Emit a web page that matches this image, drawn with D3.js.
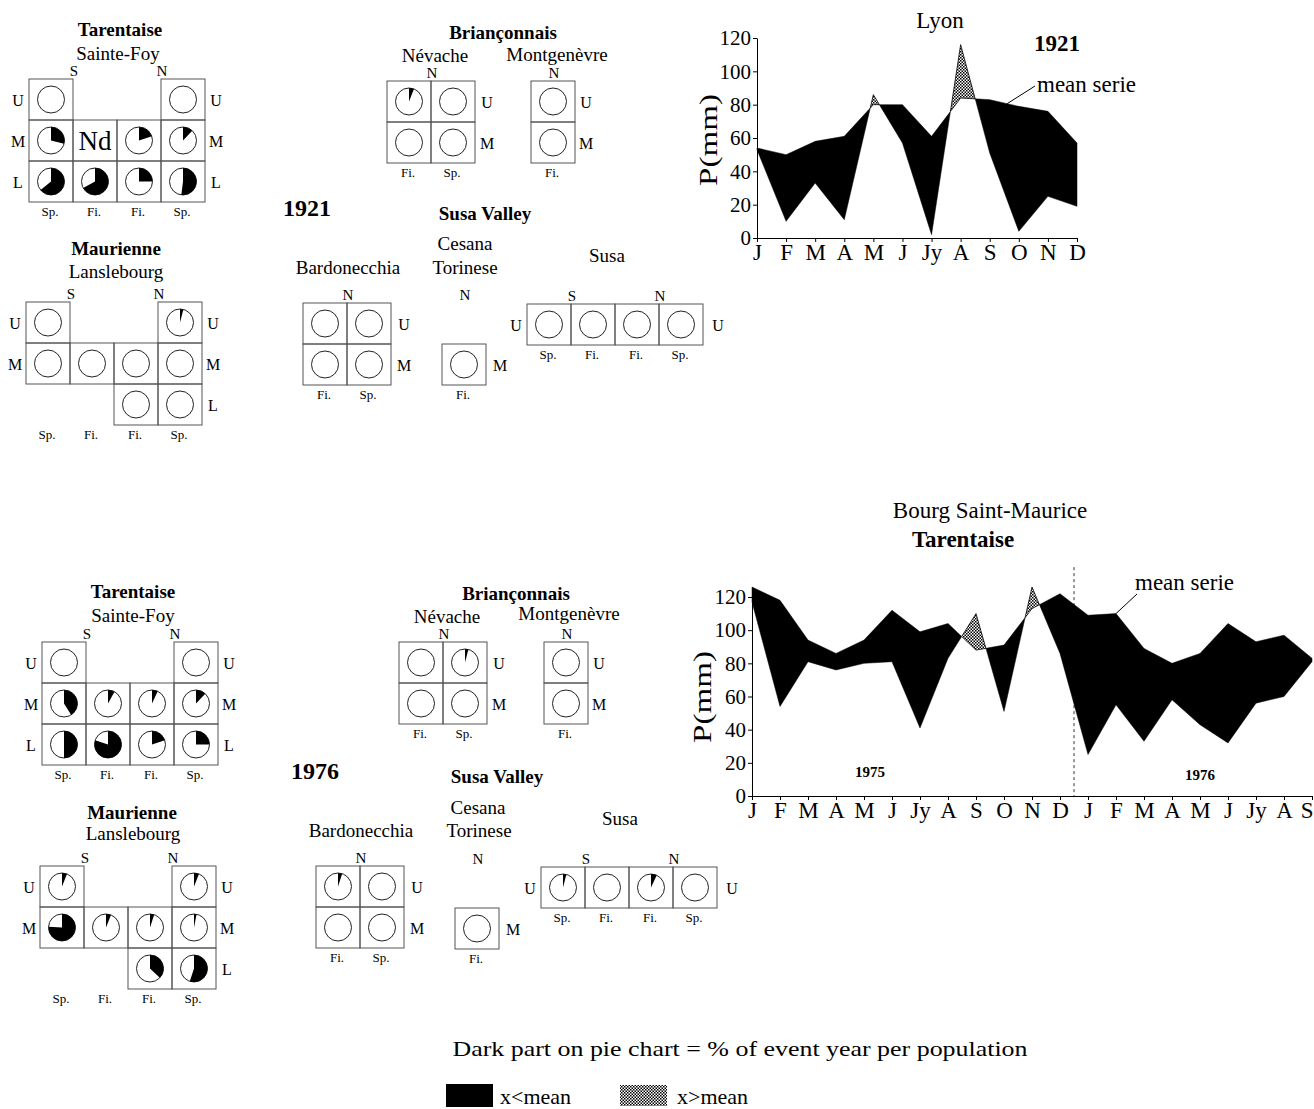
<!DOCTYPE html>
<html><head><meta charset="utf-8">
<script src="https://cdn.jsdelivr.net/npm/d3@7"></script>
<style>
body{margin:0;background:#fff}
svg text{font-family:"Liberation Serif","Times New Roman",serif;fill:#000}
</style></head>
<body><div id="chart"></div>
<script>
// ---- data ----
const months = ["J","F","M","A","M","J","Jy","A","S","O","N","D"];
const bourgMonths = months.concat(months.slice(0, 9)); // Jan 1975 -> Sep 1976
const yTicks = [0, 20, 40, 60, 80, 100, 120];

// Lyon 1921 monthly precipitation (mm) vs mean serie
const lyonMean = [54, 50, 58, 61, 80, 80, 61, 84, 83, 79, 76, 57];
const lyon1921 = [53, 10, 33, 11, 86, 57, 2, 116, 51, 4, 25, 19];

// Bourg Saint-Maurice 1975-76
const bourgMean = [126, 118, 94, 86, 94, 112, 99, 104, 88, 91, 113, 122, 109, 110, 89, 80, 86, 104, 93, 97, 83];
const bourgObs  = [117, 54, 81, 76, 80, 81, 41, 83, 110, 51, 126, 86, 25, 55, 33, 58, 43, 32, 56, 60, 81];

// pie values = dark fraction (null: no population, "Nd": no data)
const rowNames = ["U", "M", "L"];
const tarentaiseCols = ["Sp.", "Fi.", "Fi.", "Sp."];
const nevacheCols = ["Fi.", "Sp."];
const singleCol = ["Fi."];

const tarentaise1921   = [[0, null, null, 0], [0.29, "Nd", 0.2, 0.12], [0.64, 0.67, 0.25, 0.52]];
const maurienne1921    = [[0, null, null, 0.04], [0, 0, 0, 0], [null, null, 0, 0]];
const nevache1921      = [[0.06, 0], [0, 0]];
const montgenevre1921  = [[0], [0]];
const bardonecchia1921 = [[0, 0], [0, 0]];
const cesana1921       = [[null], [0]];
const susa1921         = [[0, 0, 0, 0]];

const tarentaise1976   = [[0, null, null, 0], [0.41, 0.08, 0.07, 0.12], [0.5, 0.8, 0.2, 0.25]];
const maurienne1976    = [[0.06, null, null, 0.06], [0.76, 0.06, 0.05, 0.03], [null, null, 0.37, 0.55]];
const nevache1976      = [[0, 0.04], [0, 0]];
const montgenevre1976  = [[0], [0]];
const bardonecchia1976 = [[0.05, 0], [0, 0]];
const cesana1976       = [[null], [0]];
const susa1976         = [[0.04, 0, 0.07, 0]];

// ---- drawing ----
const svg = d3.select("#chart").append("svg").attr("width", 1314).attr("height", 1109);

const pat = svg.append("defs").append("pattern").attr("id", "hatch")
    .attr("patternUnits", "userSpaceOnUse").attr("width", 3).attr("height", 3);
pat.append("rect").attr("width", 3).attr("height", 3).attr("fill", "#fff");
pat.append("rect").attr("width", 1.5).attr("height", 1.5).attr("fill", "#000");
pat.append("rect").attr("x", 1.5).attr("y", 1.5).attr("width", 1.5).attr("height", 1.5).attr("fill", "#000");

function label(x, y, t, size, opt) {
    opt = opt || {};
    const el = svg.append("text").attr("x", x).attr("y", y)
        .attr("text-anchor", opt.anchor || "middle")
        .attr("dominant-baseline", "central")
        .attr("font-size", size)
        .attr("font-weight", opt.bold ? "bold" : null)
        .text(t);
    if (opt.len) el.attr("textLength", opt.len).attr("lengthAdjust", "spacingAndGlyphs");
    if (opt.rot) el.attr("transform", `rotate(${opt.rot},${x},${y})`);
    return el;
}

const cw = 44, ch = 41, pr = 13.5;
const arc = d3.arc().innerRadius(0).outerRadius(pr);

function drawSite(vals, o) {
    const g = svg.append("g").attr("transform", `translate(${o.x},${o.y})`);
    const cells = [];
    vals.forEach((row, r) => row.forEach((v, c) => { if (v !== null) cells.push({r, c, v}); }));
    const cg = g.selectAll("g.cell").data(cells).join("g").attr("class", "cell")
        .attr("transform", d => `translate(${d.c * cw},${d.r * ch})`);
    cg.append("rect").attr("width", cw).attr("height", ch)
        .attr("fill", "none").attr("stroke", "#555").attr("stroke-width", 1);
    const pies = cg.filter(d => d.v !== "Nd").append("g").attr("transform", `translate(${cw / 2},${ch / 2})`);
    pies.append("circle").attr("r", pr).attr("fill", "#fff").attr("stroke", "#222").attr("stroke-width", 1);
    pies.filter(d => d.v > 0).append("path")
        .attr("d", d => arc({startAngle: 0, endAngle: d.v * 2 * Math.PI}))
        .attr("fill", "#000");
    cg.filter(d => d.v === "Nd").append("text")
        .attr("x", cw / 2).attr("y", ch / 2).attr("text-anchor", "middle")
        .attr("dominant-baseline", "central").attr("font-size", 27).text("Nd");

    const ncol = vals[0].length;
    vals.forEach((row, r) => {
        if (o.left && row[0] !== null)
            g.append("text").attr("x", -11).attr("y", r * ch + ch / 2 + 1).attr("text-anchor", "middle")
             .attr("dominant-baseline", "central").attr("font-size", 16).text(rowNames[r]);
        if (o.right && row[ncol - 1] !== null)
            g.append("text").attr("x", ncol * cw + (o.rOff || 11)).attr("y", r * ch + ch / 2 + 1).attr("text-anchor", "middle")
             .attr("dominant-baseline", "central").attr("font-size", 16).text(rowNames[r]);
    });
    o.cols.forEach((t, c) => {
        g.append("text").attr("x", c * cw + cw / 2 - 1).attr("y", vals.length * ch + 9)
         .attr("text-anchor", "middle").attr("dominant-baseline", "central").attr("font-size", 13).text(t);
    });
    (o.marks || []).forEach(m => {
        g.append("text").attr("x", m[1] * cw + 1).attr("y", -8).attr("text-anchor", "middle")
         .attr("dominant-baseline", "central").attr("font-size", 15).text(m[0]);
    });
}

function splitRuns(mean, obs) {
    const runs = [];
    let cur = null;
    for (let i = 0; i < mean.length; i++) {
        const p = {i: i, m: mean[i], o: obs[i]};
        const below = obs[i] <= mean[i];
        if (!cur) { cur = {below, pts: [p]}; continue; }
        if (below !== cur.below) {
            const d0 = obs[i - 1] - mean[i - 1], d1 = obs[i] - mean[i];
            const t = d0 / (d0 - d1);
            const v = mean[i - 1] + t * (mean[i] - mean[i - 1]);
            const c = {i: i - 1 + t, m: v, o: v};
            cur.pts.push(c);
            runs.push(cur);
            cur = {below, pts: [c, p]};
        } else cur.pts.push(p);
    }
    runs.push(cur);
    return runs;
}

function drawChart(o) {
    const x = d3.scaleLinear().domain([0, o.mean.length - 1]).range(o.xr);
    const y = d3.scaleLinear().domain([0, 120]).range(o.yr);
    const area = d3.area().x(d => x(d.i)).y0(d => y(d.m)).y1(d => y(d.o));
    const g = svg.append("g");
    g.selectAll("path.run").data(splitRuns(o.mean, o.obs)).join("path").attr("class", "run")
        .attr("d", d => area(d.pts))
        .attr("fill", d => d.below ? "#000" : "url(#hatch)")
        .attr("stroke", "#000").attr("stroke-width", d => d.below ? 0.5 : 0.8);

    const ya = g.append("g").attr("transform", `translate(${o.xr[0]},0)`)
        .call(d3.axisLeft(y).tickValues(yTicks).tickSize(4).tickSizeOuter(0).tickPadding(2));
    ya.selectAll("text").attr("font-size", 21).attr("font-family", null);
    const xa = g.append("g").attr("transform", `translate(0,${o.yr[0]})`)
        .call(d3.axisBottom(x).tickValues(d3.range(o.labels.length)).tickFormat(i => o.labels[i])
              .tickSize(4).tickSizeOuter(0).tickPadding(2));
    xa.selectAll("text").attr("font-size", 23).attr("font-family", null);
    if (o.lastEnd) xa.selectAll(".tick:last-of-type text").attr("text-anchor", "end").attr("dx", 1);
    g.selectAll(".domain, .tick line").attr("stroke", "#000");
    return {x, y};
}

// ---- Lyon 1921 ----
const lyon = drawChart({mean: lyonMean, obs: lyon1921, labels: months, xr: [757, 1077], yr: [238, 38]});
label(940, 20, "Lyon", 23);
label(1057, 43, "1921", 23, {bold: true});
label(1037, 84, "mean serie", 23, {anchor: "start"});
svg.append("line").attr("x1", 1035).attr("y1", 86)
    .attr("x2", lyon.x(8.6)).attr("y2", lyon.y(lyonMean[8] + 0.6 * (lyonMean[9] - lyonMean[8])))
    .attr("stroke", "#000");
label(708, 140, "P(mm)", 25, {rot: -90, len: 92});

// ---- Bourg Saint-Maurice 1975-76 ----
const bourg = drawChart({mean: bourgMean, obs: bourgObs, labels: bourgMonths, xr: [752, 1312], yr: [796, 597], lastEnd: true});
svg.append("line").attr("x1", bourg.x(11.5)).attr("x2", bourg.x(11.5))
    .attr("y1", bourg.y(138)).attr("y2", bourg.y(0))
    .attr("stroke", "#000").attr("stroke-width", 0.8).attr("stroke-dasharray", "3,3");
label(990, 510, "Bourg Saint-Maurice", 23);
label(963, 539, "Tarentaise", 23, {bold: true});
label(1135, 582, "mean serie", 23, {anchor: "start"});
svg.append("line").attr("x1", 1137).attr("y1", 594)
    .attr("x2", bourg.x(13)).attr("y2", bourg.y(bourgMean[13])).attr("stroke", "#000");
label(870, 772, "1975", 15, {bold: true});
label(1200, 775, "1976", 15, {bold: true});
label(702, 697, "P(mm)", 25, {rot: -90, len: 92});

// ---- 1921 pie panels ----
label(120, 29, "Tarentaise", 19, {bold: true});
label(118, 53, "Sainte-Foy", 19);
drawSite(tarentaise1921, {x: 29, y: 79, cols: tarentaiseCols, left: true, right: true, marks: [["S", 1], ["N", 3]]});
label(116, 248, "Maurienne", 19, {bold: true});
label(116, 271, "Lanslebourg", 19);
drawSite(maurienne1921, {x: 26, y: 302, cols: tarentaiseCols, left: true, right: true, marks: [["S", 1], ["N", 3]]});

label(503, 32, "Briançonnais", 19, {bold: true});
label(435, 55, "Névache", 19);
label(557, 54, "Montgenèvre", 19);
drawSite(nevache1921, {x: 387, y: 81, cols: nevacheCols, right: true, rOff: 12, marks: [["N", 1]]});
drawSite(montgenevre1921, {x: 531, y: 81, cols: singleCol, right: true, marks: [["N", 0.5]]});

label(307, 208, "1921", 24, {bold: true});
label(485, 213, "Susa Valley", 19, {bold: true});
label(348, 267, "Bardonecchia", 19);
label(465, 243, "Cesana", 19);
label(465, 267, "Torinese", 19);
label(607, 255, "Susa", 19);
drawSite(bardonecchia1921, {x: 303, y: 303, cols: nevacheCols, right: true, rOff: 13, marks: [["N", 1]]});
drawSite(cesana1921, {x: 442, y: 303, cols: singleCol, right: true, rOff: 14, marks: [["N", 0.5]]});
drawSite(susa1921, {x: 527, y: 304, cols: tarentaiseCols, left: true, right: true, rOff: 15, marks: [["S", 1], ["N", 3]]});

// ---- 1976 pie panels ----
label(133, 591, "Tarentaise", 19, {bold: true});
label(133, 615, "Sainte-Foy", 19);
drawSite(tarentaise1976, {x: 42, y: 642, cols: tarentaiseCols, left: true, right: true, marks: [["S", 1], ["N", 3]]});
label(132, 812, "Maurienne", 19, {bold: true});
label(133, 833, "Lanslebourg", 19);
drawSite(maurienne1976, {x: 40, y: 866, cols: tarentaiseCols, left: true, right: true, marks: [["S", 1], ["N", 3]]});

label(516, 593, "Briançonnais", 19, {bold: true});
label(447, 616, "Névache", 19);
label(569, 613, "Montgenèvre", 19);
drawSite(nevache1976, {x: 399, y: 642, cols: nevacheCols, right: true, rOff: 12, marks: [["N", 1]]});
drawSite(montgenevre1976, {x: 544, y: 642, cols: singleCol, right: true, marks: [["N", 0.5]]});

label(315, 771, "1976", 24, {bold: true});
label(497, 776, "Susa Valley", 19, {bold: true});
label(361, 830, "Bardonecchia", 19);
label(478, 807, "Cesana", 19);
label(479, 830, "Torinese", 19);
label(620, 818, "Susa", 19);
drawSite(bardonecchia1976, {x: 316, y: 866, cols: nevacheCols, right: true, rOff: 13, marks: [["N", 1]]});
drawSite(cesana1976, {x: 455, y: 867, cols: singleCol, right: true, rOff: 14, marks: [["N", 0.5]]});
drawSite(susa1976, {x: 541, y: 867, cols: tarentaiseCols, left: true, right: true, rOff: 15, marks: [["S", 1], ["N", 3]]});

// ---- legend ----
label(740, 1048, "Dark part on pie chart = % of event year per population", 22, {len: 575});
svg.append("rect").attr("x", 446).attr("y", 1084).attr("width", 47).attr("height", 23).attr("fill", "#000");
label(500, 1096, "x<mean", 22, {anchor: "start"});
svg.append("rect").attr("x", 620).attr("y", 1085).attr("width", 47).attr("height", 21).attr("fill", "url(#hatch)");
label(677, 1096, "x>mean", 22, {anchor: "start"});
</script>
</body></html>
